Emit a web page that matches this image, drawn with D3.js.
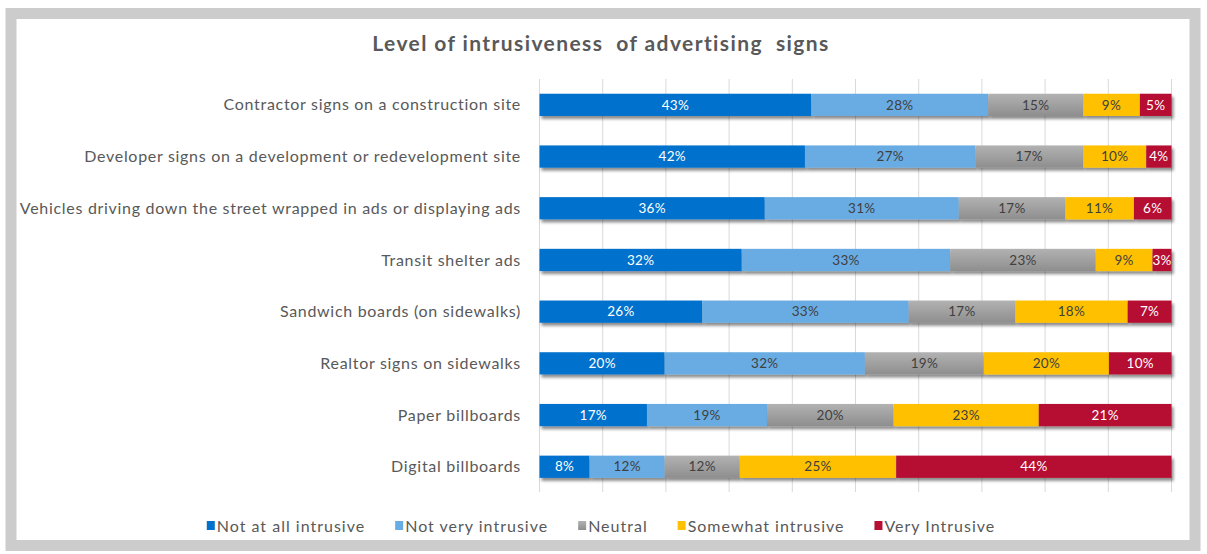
<!DOCTYPE html>
<html>
<head>
<meta charset="utf-8">
<script src="https://cdn.jsdelivr.net/npm/d3@7"></script>
<style>
  html, body { margin: 0; padding: 0; background: #ffffff; }
  svg { display: block; font-family: "Lato", "Liberation Sans Narrow", sans-serif; }
</style>
</head>
<body>
<svg id="chart" width="1207" height="554"></svg>
<script>
const width = 1207;
const height = 554;

const categories = [
    "Contractor signs on a construction site",
    "Developer signs on a development or redevelopment site",
    "Vehicles driving down the street wrapped in ads or displaying ads",
    "Transit shelter ads",
    "Sandwich boards (on sidewalks)",
    "Realtor signs on sidewalks",
    "Paper billboards",
    "Digital billboards"
];
const seriesNames = ["Not at all intrusive", "Not very intrusive", "Neutral", "Somewhat intrusive", "Very Intrusive"];
const notAtAll = [43, 42, 36, 32, 26, 20, 17, 8];
const notVery = [28, 27, 31, 33, 33, 32, 19, 12];
const neutral = [15, 17, 17, 23, 17, 19, 20, 12];
const somewhat = [9, 10, 11, 9, 18, 20, 23, 25];
const veryIntrusive = [5, 4, 6, 3, 7, 10, 21, 44];
const gridTicks = [0, 0.1, 0.2, 0.3, 0.4, 0.5, 0.6, 0.7, 0.8, 0.9, 1];

const colors = ["#0071cc", "#69ace3", "url(#grayGrad)", "#ffc000", "#b60f33"];
const legendColors = ["#0071cc", "#69ace3", "url(#grayGradLegend)", "#ffc000", "#b60f33"];
const labelColors = ["#ffffff", "#404040", "#404040", "#404040", "#ffffff"];

const rows = categories.map(function (c, i) {
    return {
        category: c,
        "Not at all intrusive": notAtAll[i],
        "Not very intrusive": notVery[i],
        "Neutral": neutral[i],
        "Somewhat intrusive": somewhat[i],
        "Very Intrusive": veryIntrusive[i]
    };
});

const stacked = d3.stack().keys(seriesNames).offset(d3.stackOffsetExpand)(rows);

const svg = d3.select("#chart");

// defs: gradient for neutral, drop shadow
const defs = svg.append("defs");
const grad = defs.append("linearGradient").attr("id", "grayGrad")
    .attr("x1", 0).attr("y1", 0).attr("x2", 0).attr("y2", 1);
grad.append("stop").attr("offset", "0%").attr("stop-color", "#b2b2b2");
grad.append("stop").attr("offset", "100%").attr("stop-color", "#8e8e8e");
const gradL = defs.append("linearGradient").attr("id", "grayGradLegend")
    .attr("x1", 0).attr("y1", 0).attr("x2", 0).attr("y2", 1);
gradL.append("stop").attr("offset", "0%").attr("stop-color", "#b2b2b2");
gradL.append("stop").attr("offset", "100%").attr("stop-color", "#8e8e8e");

const shadow = defs.append("filter").attr("id", "shadow")
    .attr("x", "-5%").attr("y", "-30%").attr("width", "110%").attr("height", "180%");
shadow.append("feDropShadow").attr("dx", 2).attr("dy", 3).attr("stdDeviation", 1.8)
    .attr("flood-color", "#000000").attr("flood-opacity", 0.45);

// outer frame
svg.append("rect").attr("x", 0).attr("y", 0).attr("width", width).attr("height", height).attr("fill", "#ffffff");
svg.append("rect")
    .attr("x", 11).attr("y", 13.5)
    .attr("width", 1184).attr("height", 532)
    .attr("fill", "#ffffff")
    .attr("stroke", "#cccccc")
    .attr("stroke-width", 11);

// title
svg.append("text")
    .attr("x", 601).attr("y", 51)
    .attr("text-anchor", "middle")
    .attr("font-size", 21)
    .attr("font-weight", "bold")
    .attr("letter-spacing", 1.4)
    .attr("fill", "#595959")
    .style("white-space", "pre")
    .text("Level of intrusiveness  of advertising  signs");

const xScale = d3.scaleLinear().domain([0, 1]).range([539.5, 1171.5]);
const yScale = d3.scaleBand().domain(categories).range([79, 492.6]).paddingInner(0.57).paddingOuter(0.285);

// gridlines
svg.append("g").selectAll("line").data(gridTicks).enter()
    .append("line")
    .attr("x1", function (d) { return xScale(d); })
    .attr("x2", function (d) { return xScale(d); })
    .attr("y1", 79)
    .attr("y2", 492)
    .attr("stroke", "#d9d9d9")
    .attr("stroke-width", 1);

// category labels
svg.append("g").selectAll("text").data(categories).enter()
    .append("text")
    .attr("x", 521)
    .attr("y", function (d) { return yScale(d) + yScale.bandwidth() / 2; })
    .attr("dy", "0.35em")
    .attr("text-anchor", "end")
    .attr("font-size", 16)
    .attr("letter-spacing", 0.7)
    .attr("fill", "#595959")
    .text(function (d) { return d; });

// bars
const barGroup = svg.append("g");
stacked.forEach(function (layer, k) {
    barGroup.append("g").attr("filter", "url(#shadow)")
        .selectAll("rect").data(layer).enter()
        .append("rect")
        .attr("x", function (d) { return xScale(d[0]); })
        .attr("y", function (d) { return yScale(d.data.category); })
        .attr("width", function (d) { return xScale(d[1]) - xScale(d[0]); })
        .attr("height", yScale.bandwidth())
        .attr("fill", colors[k]);
});

// data labels
stacked.forEach(function (layer, k) {
    svg.append("g").selectAll("text").data(layer).enter()
        .append("text")
        .attr("x", function (d) { return (xScale(d[0]) + xScale(d[1])) / 2; })
        .attr("y", function (d) { return yScale(d.data.category) + yScale.bandwidth() / 2; })
        .attr("dy", "0.35em")
        .attr("text-anchor", "middle")
        .attr("font-size", 13.5)
        .attr("letter-spacing", 0.3)
        .attr("fill", labelColors[k])
        .text(function (d) { return d.data[layer.key] + "%"; });
});

// legend
const legend = svg.append("g");
const gap = 30;
let lx = 0;
const items = [];
seriesNames.forEach(function (name, k) {
    const g = legend.append("g");
    g.append("rect").attr("x", 0).attr("y", -5).attr("width", 8).attr("height", 9).attr("fill", legendColors[k]);
    const t = g.append("text").attr("x", 10).attr("y", 0).attr("dy", "0.35em")
        .attr("font-size", 16).attr("letter-spacing", 1.0).attr("fill", "#595959").text(name);
    const w = 10 + t.node().getComputedTextLength();
    items.push({ g: g, x: lx });
    lx += w + gap;
});
const totalW = lx - gap;
const startX = 601 - totalW / 2;
items.forEach(function (it) {
    it.g.attr("transform", "translate(" + (startX + it.x) + ",526)");
});
</script>
</body>
</html>
